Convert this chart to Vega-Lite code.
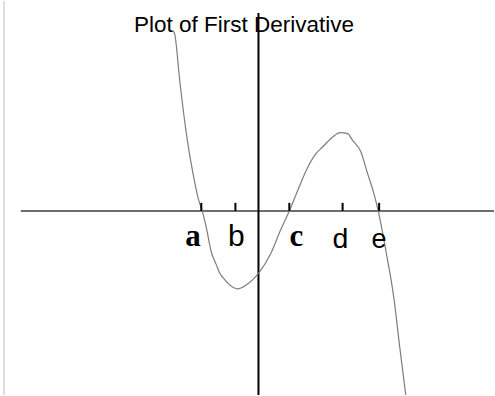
{
  "$schema": "https://vega.github.io/schema/vega-lite/v6.json",
  "width": 495,
  "height": 396,
  "autosize": {"type": "fit", "contains": "padding"},
  "padding": 0,
  "background": "white",
  "config": {"view": {"stroke": null}},
  "datasets": {
    "curve": [
      {"x": -2.86, "y": 6.03}, {"x": -2.80, "y": 5.93}, {"x": -2.63, "y": 4.37}, {"x": -2.41, "y": 2.60},
      {"x": -2.19, "y": 1.27}, {"x": -1.97, "y": 0.27}, {"x": -1.91, "y": 0.10}, {"x": -1.74, "y": -0.57},
      {"x": -1.58, "y": -1.36}, {"x": -1.41, "y": -1.80}, {"x": -1.30, "y": -2.07}, {"x": -1.13, "y": -2.30},
      {"x": -0.97, "y": -2.47}, {"x": -0.70, "y": -2.61}, {"x": -0.41, "y": -2.48}, {"x": -0.19, "y": -2.30},
      {"x": 0.03, "y": -2.05}, {"x": 0.42, "y": -1.41}, {"x": 0.70, "y": -0.73}, {"x": 1.03, "y": 0.0},
      {"x": 1.37, "y": 0.83}, {"x": 1.63, "y": 1.43}, {"x": 1.92, "y": 1.92}, {"x": 2.14, "y": 2.14},
      {"x": 2.48, "y": 2.48}, {"x": 2.73, "y": 2.62}, {"x": 2.98, "y": 2.59}, {"x": 3.14, "y": 2.37},
      {"x": 3.42, "y": 1.98}, {"x": 3.63, "y": 1.30}, {"x": 3.87, "y": 0.53}, {"x": 4.00, "y": 0.0},
      {"x": 4.26, "y": -1.36}, {"x": 4.53, "y": -2.97}, {"x": 4.70, "y": -4.41}, {"x": 4.92, "y": -6.17}
    ],
    "points": [
      {"label": "a", "tick": -1.91, "lx": -2.19, "ly": -1.19, "style": "serif"},
      {"label": "b", "tick": -0.77, "lx": -0.74, "ly": -1.19, "style": "sans"},
      {"label": "c", "tick": 1.03, "lx": 1.27, "ly": -1.17, "style": "serif"},
      {"label": "d", "tick": 2.81, "lx": 2.74, "ly": -1.24, "style": "sans"},
      {"label": "e", "tick": 4.03, "lx": 4.03, "ly": -1.24, "style": "sans"}
    ]
  },
  "layer": [
    {
      "data": {"values": [{"x": -8.5, "y": -6.167, "y2": 7.033}]},
      "mark": {"type": "rule", "color": "#bdbdbd", "strokeWidth": 1},
      "encoding": {
        "x": {"field": "x", "type": "quantitative", "scale": {"domain": [-8.633, 7.867], "nice": false, "zero": false}, "axis": null},
        "y": {"field": "y", "type": "quantitative", "scale": {"domain": [-6.167, 7.033], "nice": false, "zero": false}, "axis": null},
        "y2": {"field": "y2"}
      }
    },
    {
      "data": {"values": [{"x": -7.94, "x2": 7.867, "y": 0}]},
      "mark": {"type": "rule", "color": "#6e6e6e", "strokeWidth": 2},
      "encoding": {
        "x": {"field": "x", "type": "quantitative"},
        "x2": {"field": "x2"},
        "y": {"field": "y", "type": "quantitative"}
      }
    },
    {
      "data": {"values": [{"x": 0, "y": -6.167, "y2": 6.633}]},
      "mark": {"type": "rule", "color": "#000000", "strokeWidth": 2},
      "encoding": {
        "x": {"field": "x", "type": "quantitative"},
        "y": {"field": "y", "type": "quantitative"},
        "y2": {"field": "y2"}
      }
    },
    {
      "data": {"name": "curve"},
      "mark": {"type": "line", "color": "#7d7d7d", "strokeWidth": 1.2, "clip": true, "interpolate": "monotone"},
      "encoding": {
        "x": {"field": "x", "type": "quantitative"},
        "y": {"field": "y", "type": "quantitative"}
      }
    },
    {
      "data": {"name": "points"},
      "mark": {"type": "rule", "color": "#000000", "strokeWidth": 2},
      "encoding": {
        "x": {"field": "tick", "type": "quantitative"},
        "y": {"datum": 0, "type": "quantitative"},
        "y2": {"datum": 0.27}
      }
    },
    {
      "data": {"name": "points"},
      "transform": [{"filter": "datum.style === 'serif'"}],
      "mark": {"type": "text", "font": "Liberation Serif", "fontWeight": "bold", "fontSize": 31, "baseline": "alphabetic", "align": "center", "color": "#000000"},
      "encoding": {
        "x": {"field": "lx", "type": "quantitative"},
        "y": {"field": "ly", "type": "quantitative"},
        "text": {"field": "label"}
      }
    },
    {
      "data": {"name": "points"},
      "transform": [{"filter": "datum.style === 'sans'"}],
      "mark": {"type": "text", "font": "Liberation Sans", "baseline": "alphabetic", "align": "center", "color": "#000000"},
      "encoding": {
        "x": {"field": "lx", "type": "quantitative"},
        "y": {"field": "ly", "type": "quantitative"},
        "text": {"field": "label"},
        "size": {"field": "label", "type": "nominal", "scale": {"domain": ["b", "d", "e"], "range": [30, 27, 30]}, "legend": null}
      }
    },
    {
      "data": {"values": [{"title": "Plot of First Derivative", "x": -0.483, "y": 6.01}]},
      "mark": {"type": "text", "font": "Liberation Sans", "fontSize": 22.5, "baseline": "alphabetic", "align": "center", "color": "#000000"},
      "encoding": {
        "x": {"field": "x", "type": "quantitative"},
        "y": {"field": "y", "type": "quantitative"},
        "text": {"field": "title"}
      }
    }
  ]
}
